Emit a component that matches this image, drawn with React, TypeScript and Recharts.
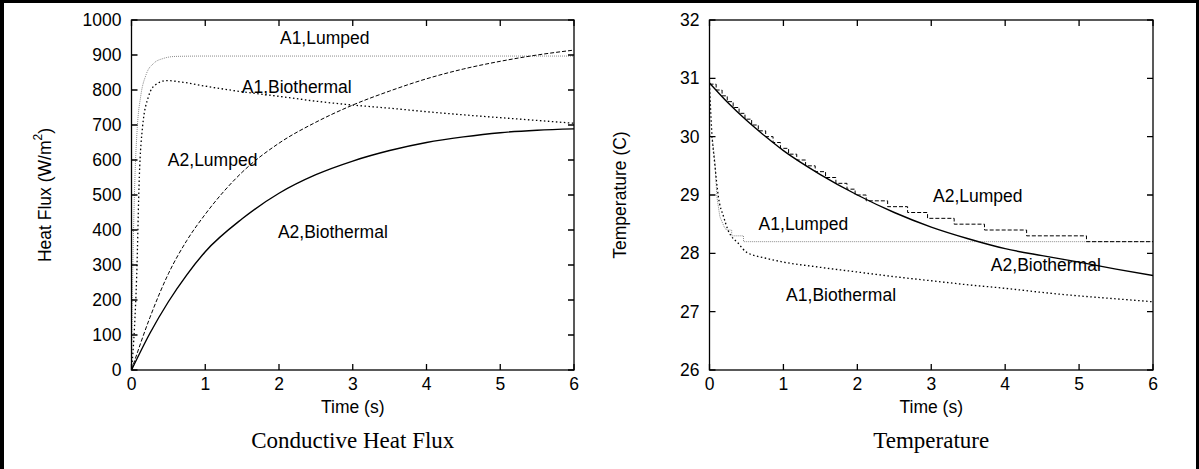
import { ComposedChart, Line, XAxis, YAxis, ReferenceDot, Label } from 'recharts'

const TIME_TICKS = [0, 1, 2, 3, 4, 5, 6]
const FLUX_TICKS = [0, 100, 200, 300, 400, 500, 600, 700, 800, 900, 1000]
const TEMP_TICKS = [26, 27, 28, 29, 30, 31, 32]

// conductive heat flux (W/m2) vs time (s)
const FLUX_A1_LUMPED_T = [0, 0.016, 0.03, 0.047, 0.079, 0.124, 0.2, 0.3, 0.43, 0.6, 1, 6]
const FLUX_A1_LUMPED_V = [0, 267, 420, 552, 695, 781, 845, 876, 890, 896, 897, 897]

const FLUX_A1_BIO_T = [0, 0.04, 0.07, 0.106, 0.15, 0.23, 0.32, 0.48, 0.7, 1, 1.5, 2, 2.5, 3, 3.5, 4, 4.5, 5, 5.5, 6]
const FLUX_A1_BIO_V = [0, 120, 267, 552, 695, 781, 814, 827, 822, 811, 795, 782, 768, 757, 748, 738, 729, 721, 713, 705]

const FLUX_A2_LUMPED_T = [0, 0.25, 0.5, 0.75, 1, 1.5, 2, 2.5, 3, 3.5, 4, 4.5, 5, 5.5, 6]
const FLUX_A2_LUMPED_V = [0, 150, 275, 370, 445, 565, 648, 708, 757, 797, 832, 860, 882, 900, 914]

const FLUX_A2_BIO_T = [0, 0.25, 0.5, 0.75, 1, 1.5, 2, 2.5, 3, 3.5, 4, 4.5, 5, 5.5, 6]
const FLUX_A2_BIO_V = [0, 105, 195, 272, 338, 432, 505, 558, 597, 627, 650, 666, 678, 685, 689]

// temperature (C) vs time (s)
const TEMP_A1_LUMPED_T = [0, 0.04, 0.074, 0.1, 0.14, 0.2, 0.23, 0.3, 0.3, 0.46, 0.46, 6]
const TEMP_A1_LUMPED_V = [30.05, 29.95, 29.55, 28.97, 28.63, 28.45, 28.4, 28.4, 28.3, 28.3, 28.2, 28.2]

const TEMP_A1_BIO_T = [0, 0.03, 0.07, 0.12, 0.19, 0.25, 0.39, 0.5, 0.75, 1, 1.5, 2, 2.5, 3, 3.5, 4, 4.5, 5, 5.5, 6]
const TEMP_A1_BIO_V = [30.9, 30.1, 29.55, 28.97, 28.63, 28.4, 28.17, 28.02, 27.92, 27.85, 27.76, 27.68, 27.6, 27.53, 27.46, 27.4, 27.33, 27.27, 27.22, 27.17]

const TEMP_A2_LUMPED_T = [0, 0.09, 0.17, 0.24, 0.32, 0.4, 0.48, 0.57, 0.66, 0.76, 0.86, 0.96, 1.07, 1.18, 1.3, 1.43, 1.57, 1.71, 1.86, 1.97, 2.12, 2.41, 2.68, 2.95, 3.31, 3.72, 4.29, 5.1, 6]
const TEMP_A2_LUMPED_V = [30.9, 30.8, 30.7, 30.6, 30.5, 30.4, 30.3, 30.2, 30.1, 30.0, 29.9, 29.8, 29.7, 29.6, 29.5, 29.4, 29.3, 29.2, 29.1, 29.0, 28.9, 28.8, 28.7, 28.6, 28.5, 28.4, 28.3, 28.2, 28.2]

const TEMP_A2_BIO_T = [0, 0.25, 0.5, 0.75, 1, 1.5, 2, 2.5, 3, 3.5, 4, 4.5, 5, 5.5, 6]
const TEMP_A2_BIO_V = [30.92, 30.58, 30.28, 30.01, 29.76, 29.35, 29.0, 28.7, 28.45, 28.25, 28.08, 27.96, 27.85, 27.73, 27.62]

const FLUX_NOTES = [
  { text: 'A1,Lumped', t: 2.62, v: 949 },
  { text: 'A1,Biothermal', t: 2.24, v: 809 },
  { text: 'A2,Lumped', t: 1.1, v: 600 },
  { text: 'A2,Biothermal', t: 2.73, v: 394 },
]

const TEMP_NOTES = [
  { text: 'A2,Lumped', t: 3.63, v: 28.98 },
  { text: 'A1,Lumped', t: 1.27, v: 28.5 },
  { text: 'A2,Biothermal', t: 4.55, v: 27.8 },
  { text: 'A1,Biothermal', t: 1.78, v: 27.29 },
]

const SANS = '"Liberation Sans", Arial, Helvetica, sans-serif'
const SERIF = '"Liberation Serif", "Times New Roman", serif'
const FONT = 17.5
const TICK = 6
const PLOT_TOP = 20
const PLOT_BOTTOM = 370

const zip = (t: number[], v: number[]) => t.map((x, i) => ({ t: x, v: v[i] }))

const lineBase = { dot: false, activeDot: false, isAnimationActive: false, strokeLinecap: 'butt' as const }

// gnuplot style: closed frame, inward ticks on both opposite sides, labels outside
function xTick(left: number, right: number) {
  return (p: any) => {
    const x = p.payload.coordinate
    return (
      <g>
        {p.index === 0 && (
          <rect
            x={left}
            y={PLOT_TOP}
            width={right - left}
            height={PLOT_BOTTOM - PLOT_TOP}
            fill="none"
            stroke="#000"
            strokeWidth={1.3}
          />
        )}
        <path d={`M${x},${PLOT_BOTTOM}v${-TICK}M${x},${PLOT_TOP}v${TICK}`} stroke="#000" strokeWidth={1.3} fill="none" />
        <text x={x} y={PLOT_BOTTOM + 20} textAnchor="middle" fontSize={FONT} fontFamily={SANS} fill="#000">
          {p.payload.value}
        </text>
      </g>
    )
  }
}

function yTick(left: number, right: number) {
  return (p: any) => {
    const y = p.payload.coordinate
    return (
      <g>
        <path d={`M${left},${y}h${TICK}M${right},${y}h${-TICK}`} stroke="#000" strokeWidth={1.3} fill="none" />
        <text x={left - 10} y={y + 6} textAnchor="end" fontSize={FONT} fontFamily={SANS} fill="#000">
          {p.payload.value}
        </text>
      </g>
    )
  }
}

function xLabel(caption: string) {
  return (props: any) => {
    const { x, y, width } = props.viewBox
    const cx = x + width / 2
    return (
      <g>
        <text x={cx} y={y + 43} textAnchor="middle" fontSize={FONT} fontFamily={SANS} fill="#000">
          Time (s)
        </text>
        <text x={cx} y={y + 78} textAnchor="middle" fontSize={23} fontFamily={SERIF} fill="#000">
          {caption}
        </text>
      </g>
    )
  }
}

function yLabel(offset: number, body: React.ReactNode) {
  return (props: any) => {
    const { x, y, height } = props.viewBox
    const cx = x + offset
    const cy = y + height / 2
    return (
      <text
        x={cx}
        y={cy}
        transform={`rotate(-90, ${cx}, ${cy})`}
        textAnchor="middle"
        dominantBaseline="central"
        fontSize={FONT}
        fontFamily={SANS}
        fill="#000"
      >
        {body}
      </text>
    )
  }
}

function FluxChart() {
  const left = 131.5
  const right = 574
  return (
    <ComposedChart width={599} height={469} margin={{ top: PLOT_TOP, right: 599 - right, bottom: 469 - PLOT_BOTTOM - 30, left: 0 }}>
      <XAxis
        dataKey="t"
        type="number"
        domain={[0, 6]}
        ticks={TIME_TICKS}
        allowDataOverflow
        height={30}
        tick={xTick(left, right)}
        tickLine={false}
        axisLine={false}
      >
        <Label content={xLabel('Conductive Heat Flux')} />
      </XAxis>
      <YAxis
        dataKey="v"
        type="number"
        domain={[0, 1000]}
        ticks={FLUX_TICKS}
        allowDataOverflow
        width={left}
        tick={yTick(left, right)}
        tickLine={false}
        axisLine={false}
      >
        <Label
          content={yLabel(
            45,
            <>
              Heat Flux (W/m<tspan dy={-7} fontSize={12}>2</tspan>
              <tspan dy={7}>)</tspan>
            </>
          )}
        />
      </YAxis>
      <Line {...lineBase} data={zip(FLUX_A1_LUMPED_T, FLUX_A1_LUMPED_V)} dataKey="v" type="monotone" stroke="#8a8a8a" strokeWidth={1} strokeDasharray="1 1" />
      <Line {...lineBase} data={zip(FLUX_A1_BIO_T, FLUX_A1_BIO_V)} dataKey="v" type="monotone" stroke="#000" strokeWidth={1.3} strokeDasharray="1.5 2.5" />
      <Line {...lineBase} data={zip(FLUX_A2_LUMPED_T, FLUX_A2_LUMPED_V)} dataKey="v" type="monotone" stroke="#000" strokeWidth={1} strokeDasharray="4 2" />
      <Line {...lineBase} data={zip(FLUX_A2_BIO_T, FLUX_A2_BIO_V)} dataKey="v" type="monotone" stroke="#000" strokeWidth={1.4} />
      {FLUX_NOTES.map((n) => (
        <ReferenceDot
          key={n.text}
          x={n.t}
          y={n.v}
          r={0}
          fill="none"
          stroke="none"
          label={{ value: n.text, position: 'center', fill: '#000', fontSize: FONT, fontFamily: SANS }}
        />
      ))}
    </ComposedChart>
  )
}

function TempChart() {
  const left = 110.5
  const right = 554
  return (
    <ComposedChart width={600} height={469} margin={{ top: PLOT_TOP, right: 600 - right, bottom: 469 - PLOT_BOTTOM - 30, left: 0 }}>
      <XAxis
        dataKey="t"
        type="number"
        domain={[0, 6]}
        ticks={TIME_TICKS}
        allowDataOverflow
        height={30}
        tick={xTick(left, right)}
        tickLine={false}
        axisLine={false}
      >
        <Label content={xLabel('Temperature')} />
      </XAxis>
      <YAxis
        dataKey="v"
        type="number"
        domain={[26, 32]}
        ticks={TEMP_TICKS}
        allowDataOverflow
        width={left}
        tick={yTick(left, right)}
        tickLine={false}
        axisLine={false}
      >
        <Label content={yLabel(21, 'Temperature (C)')} />
      </YAxis>
      <Line {...lineBase} data={zip(TEMP_A1_LUMPED_T, TEMP_A1_LUMPED_V)} dataKey="v" type="linear" stroke="#8a8a8a" strokeWidth={1} strokeDasharray="1 1" />
      <Line {...lineBase} data={zip(TEMP_A1_BIO_T, TEMP_A1_BIO_V)} dataKey="v" type="monotone" stroke="#000" strokeWidth={1.3} strokeDasharray="1.5 2.5" />
      <Line {...lineBase} data={zip(TEMP_A2_LUMPED_T, TEMP_A2_LUMPED_V)} dataKey="v" type="stepAfter" stroke="#000" strokeWidth={1} strokeDasharray="4 2" />
      <Line {...lineBase} data={zip(TEMP_A2_BIO_T, TEMP_A2_BIO_V)} dataKey="v" type="monotone" stroke="#000" strokeWidth={1.4} />
      {TEMP_NOTES.map((n) => (
        <ReferenceDot
          key={n.text}
          x={n.t}
          y={n.v}
          r={0}
          fill="none"
          stroke="none"
          label={{ value: n.text, position: 'center', fill: '#000', fontSize: FONT, fontFamily: SANS }}
        />
      ))}
    </ComposedChart>
  )
}

export default function App() {
  return (
    <div style={{ position: 'absolute', left: 0, top: 0, width: 1199, height: 469, background: '#fff', overflow: 'hidden' }}>
      <div
        style={{
          position: 'absolute',
          left: 0,
          top: 0,
          width: 1199,
          height: 469,
          boxSizing: 'border-box',
          borderTop: '3px solid #000',
          borderLeft: '4px solid #000',
          borderRight: '3px solid #000',
        }}
      />
      <div style={{ position: 'absolute', left: 0, top: 0 }}>
        <FluxChart />
      </div>
      <div style={{ position: 'absolute', left: 599, top: 0 }}>
        <TempChart />
      </div>
    </div>
  )
}
